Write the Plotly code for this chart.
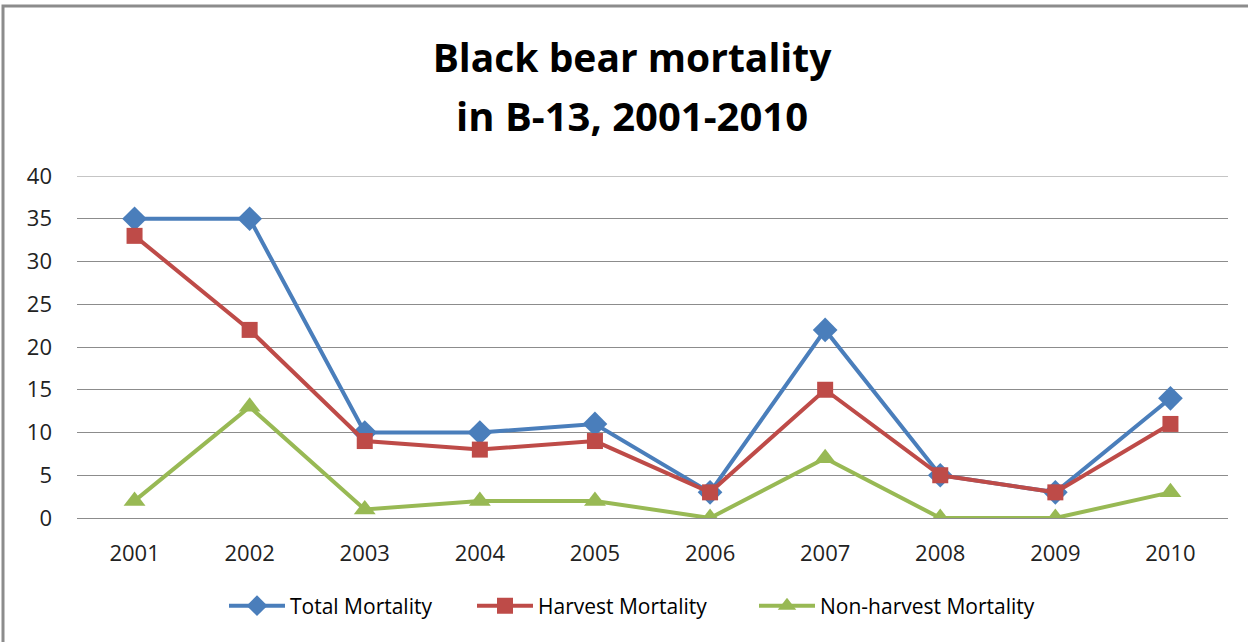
import plotly.graph_objects as go

years = ["2001", "2002", "2003", "2004", "2005", "2006", "2007", "2008", "2009", "2010"]
total = [35, 35, 10, 10, 11, 3, 22, 5, 3, 14]
harvest = [33, 22, 9, 8, 9, 3, 15, 5, 3, 11]
nonharvest = [2, 13, 1, 2, 2, 0, 7, 0, 0, 3]
title_line1 = "Black bear mortality"
title_line2 = "in B-13, 2001-2010"

FONT = "Open Sans, Calibri, Carlito, sans-serif"
PLOT_L, PLOT_R, PLOT_T, PLOT_B = 77, 1228, 176, 518
PW, PH = PLOT_R - PLOT_L, PLOT_B - PLOT_T


def px_x(x):
    return (x - PLOT_L) / PW


def px_y(y):
    return (PLOT_B - y) / PH


fig = go.Figure()
fig.add_trace(go.Scatter(x=years, y=total, name="Total Mortality", mode="lines+markers",
                         line=dict(color="#4A7EBB", width=4), legend="legend",
                         marker=dict(symbol="diamond", size=19, color="#4A7EBB")))
fig.add_trace(go.Scatter(x=years, y=harvest, name="Harvest Mortality", mode="lines+markers",
                         line=dict(color="#BE4B48", width=4), legend="legend2",
                         marker=dict(symbol="square", size=16, color="#BE4B48")))
fig.add_trace(go.Scatter(x=years, y=nonharvest, name="Non-harvest Mortality", mode="lines+markers",
                         line=dict(color="#98B954", width=4), legend="legend3",
                         marker=dict(symbol="triangle-up", size=19, color="#98B954")))

leg_common = dict(orientation="h", xanchor="left", yanchor="middle",
                  font=dict(size=21, color="#000000"), itemwidth=56,
                  bgcolor="rgba(0,0,0,0)")

fig.update_layout(
    width=1248, height=642,
    paper_bgcolor="white", plot_bgcolor="white",
    margin=dict(l=PLOT_L, r=1248 - PLOT_R, t=PLOT_T, b=642 - PLOT_B),
    font=dict(family=FONT, color="#222222"),
    title=dict(text="<b>" + title_line1 + "</b>",
               x=632 / 1248, xanchor="center", yref="container", y=1 - 58 / 642, yanchor="middle",
               font=dict(size=39, family=FONT, color="#000000")),
    xaxis=dict(type="category", range=[-0.5, 9.5], showgrid=False,
               showline=False, ticks="", tickfont=dict(size=22, color="#222222"),
               ticklabelstandoff=20),
    yaxis=dict(range=[0, 40], dtick=5, showgrid=True, gridcolor="#8c8c8c", gridwidth=1,
               zeroline=True, zerolinecolor="#8c8c8c", zerolinewidth=1,
               showline=False, ticks="", tickfont=dict(size=22, color="#222222"),
               ticklabelstandoff=24),
    legend=dict(x=px_x(224), y=px_y(606), **leg_common),
    legend2=dict(x=px_x(472), y=px_y(606), **leg_common),
    legend3=dict(x=px_x(754), y=px_y(606), **leg_common),
    showlegend=True,
)

# second title line
fig.add_annotation(text="<b>" + title_line2 + "</b>", xref="paper", yref="paper",
                   x=px_x(632), y=px_y(116), xanchor="center", yanchor="middle",
                   showarrow=False, font=dict(size=40, family=FONT, color="#000000"))

# top gridline (at the edge of the y range)
fig.add_shape(type="line", xref="paper", yref="y", x0=0, x1=1, y0=40, y1=40,
              line=dict(color="#8c8c8c", width=1), layer="below")

# outer chart frame (Excel-style border, partly cut off)
fig.add_shape(type="rect", xref="paper", yref="paper",
              x0=px_x(3), x1=1.5, y0=-1, y1=px_y(6),
              line=dict(color="#8c8c8c", width=3), fillcolor="rgba(0,0,0,0)", layer="below")

fig.write_html("out.html", config={"displayModeBar": False},
               post_script="document.body.style.margin='0';")
